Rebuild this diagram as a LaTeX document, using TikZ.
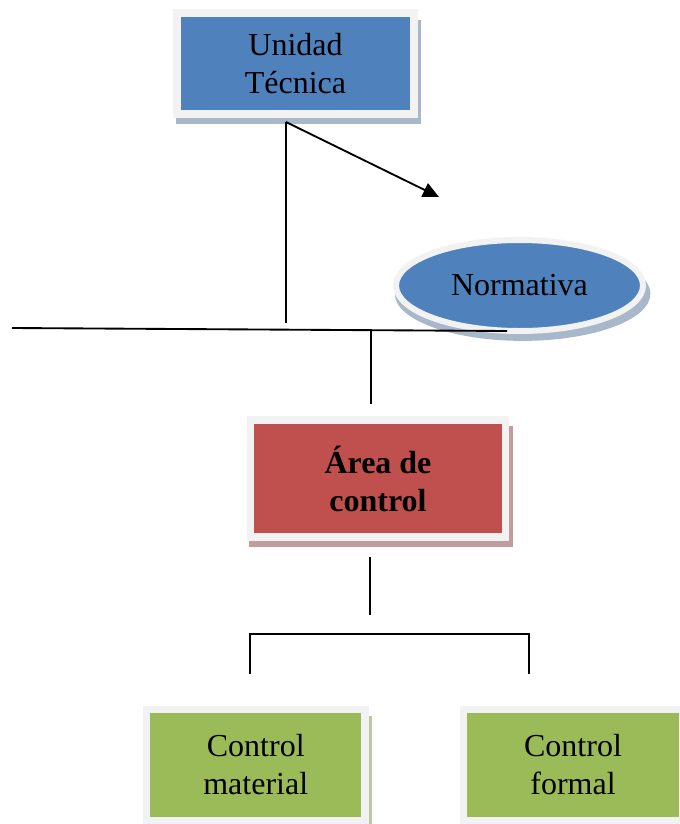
\documentclass[tikz,border=0pt]{standalone}
\usepackage{fontspec}
\setmainfont{Liberation Serif}
\usetikzlibrary{shapes.geometric,shadows,arrows.meta}

\definecolor{boxblue}{HTML}{4F81BD}
\definecolor{boxred}{HTML}{C0504D}
\definecolor{boxgreen}{HTML}{9BBB59}
\definecolor{framegray}{HTML}{F2F2F2}
\definecolor{shblue}{HTML}{A9B7CB}
\definecolor{shred}{HTML}{C09C9B}
\definecolor{shgreen}{HTML}{BCC7A6}

\tikzset{
  % one drawing unit = one pixel of the 680 x 824 page
  x=0.75pt, y=-0.75pt,
  labeltext/.style={font=\fontsize{24}{28.5}\selectfont, align=center, text=black},
  framed/.style={labeltext, draw=framegray, inner sep=0pt},
  boxshadow/.style={general shadow={fill=#1, shadow xshift=2.25pt,
      shadow yshift=-6pt, shadow scale=1.035}},
  unitbox/.style={framed, rectangle, line width=6pt, fill=boxblue,
      boxshadow=shblue, minimum width=177.75pt, minimum height=75.75pt},
  normbox/.style={framed, ellipse, line width=4.5pt, fill=boxblue,
      boxshadow=shblue, minimum width=185.25pt, minimum height=68.25pt},
  areabox/.style={framed, rectangle, line width=5.5pt, fill=boxred,
      boxshadow=shred, minimum width=191.25pt, minimum height=87.75pt,
      font=\fontsize{24}{28.5}\selectfont\bfseries},
  ctrlbox/.style={framed, rectangle, line width=5.5pt, fill=boxgreen,
      boxshadow=shgreen, minimum width=164pt, minimum height=82.9pt},
  link/.style={draw=black, line width=1.4pt},
}

\begin{document}
\begin{tikzpicture}
  \useasboundingbox (0,0) rectangle (680,824);
  \clip (0,0) rectangle (680,824);

  % boxes
  \node[unitbox] (unidad) at (295.5,63.5) {Unidad\\Técnica};
  \node[normbox] (normativa) at (519.5,285.5) {Normativa};
  \node[areabox] (area) at (378,478.5) {Área de\\control};
  \node[ctrlbox] (material) at (255.75,765) {Control\\material};
  \node[ctrlbox] (formal) at (573,765) {Control\\formal};

  % connector end points
  \coordinate (fork) at (286,122);
  \coordinate (forkfoot) at (286,323);
  \coordinate (normtip) at (439,197);
  \coordinate (barleft) at (12,328);
  \coordinate (barright) at (507,331);
  \coordinate (bartap) at (371,330.5);
  \coordinate (areatop) at (371,404);
  \coordinate (areafoot) at (370,557);
  \coordinate (splittop) at (370,615);
  \coordinate (splitleft) at (250,634);
  \coordinate (splitright) at (529,634);
  \coordinate (matfoot) at (250,674);
  \coordinate (formfoot) at (529,674);

  % connectors
  \draw[link] (fork) -- (forkfoot);
  \draw[link, -{Triangle[length=12pt,width=11pt]}] (fork) -- (normtip);
  \draw[link] (barleft) -- (barright);
  \draw[link] (bartap) -- (areatop);
  \draw[link] (areafoot) -- (splittop);
  \draw[link] (matfoot) -- (splitleft) -- (splitright) -- (formfoot);
\end{tikzpicture}
\end{document}
